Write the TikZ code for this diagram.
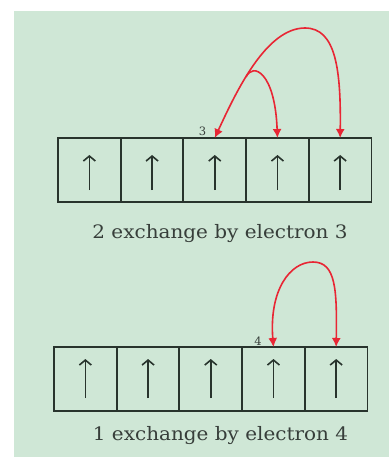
\documentclass[tikz,border=0pt]{standalone}
\usepackage{fontspec}
\newfontfamily\capfont{DejaVu Serif}
\usetikzlibrary{arrows.meta,calc}
\definecolor{bggreen}{RGB}{207,231,214}
\definecolor{boxline}{RGB}{40,52,45}
\definecolor{exred}{RGB}{232,38,52}
\definecolor{txtgray}{RGB}{55,62,58}
\begin{document}
\begin{tikzpicture}[x=1pt,y=-1pt,
  orbital/.style={draw=boxline,line width=1.9pt,minimum width=62.7pt,minimum height=64pt,inner sep=0pt,outer sep=0pt},
  spin/.style={draw=boxline,line width=1.6pt,-{Straight Barb[length=5pt,width=12pt]}},
  xchg/.style={draw=exred,line width=1.6pt,{Latex[length=9pt,width=9pt]}-{Latex[length=9pt,width=9pt]}},
  xchgone/.style={draw=exred,line width=1.6pt,-{Latex[length=9pt,width=9pt]}},
  caption/.style={font=\capfont\fontsize{18.5}{22}\selectfont,text=txtgray,anchor=base,inner sep=0pt,xscale=1.08},
  elabel/.style={font=\capfont\fontsize{11.5}{12}\selectfont,text=txtgray,inner sep=0pt}
]
\useasboundingbox (0,0) rectangle (389,457);
\fill[white] (0,0) rectangle (389,457);
\fill[bggreen] (14,11) rectangle (389,457);
% top row
\foreach \i/\cx in {1/89.35,2/152.05,3/214.75,4/277.45,5/340.15}{
  \node[orbital] (a\i) at (\cx,170) {};
  \draw[spin] ($(a\i.center)+(0,20)$) -- ($(a\i.center)+(0,-15)$);
}
% bottom row
\foreach \i/\cx in {1/85.35,2/148.05,3/210.75,4/273.45,5/336.15}{
  \node[orbital] (b\i) at (\cx,379) {};
  \draw[spin] ($(b\i.center)+(0,19)$) -- ($(b\i.center)+(0,-20)$);
}
% top exchanges
\draw[xchg] (a3.north) .. controls (236,92) and (266,28) .. (305,28) .. controls (336,28) and (341,70) .. (a5.north);
\coordinate (branch) at (246,77);
\draw[xchgone] (branch) .. controls (253,62) and (275,72) .. (a4.north);
\node[elabel] (l3) at (202.5,131) {3};
% bottom exchange
\draw[xchg] (b4.north) .. controls (269,290) and (290,262) .. (313,262) .. controls (336,262) and (337,290) .. (b5.north);
\node[elabel] (l4) at (258,341) {4};
% captions
\node[caption] (c1) at (220,238) {2 exchange by electron 3};
\node[caption] (c2) at (220.5,440) {1 exchange by electron 4};
\end{tikzpicture}
\end{document}
